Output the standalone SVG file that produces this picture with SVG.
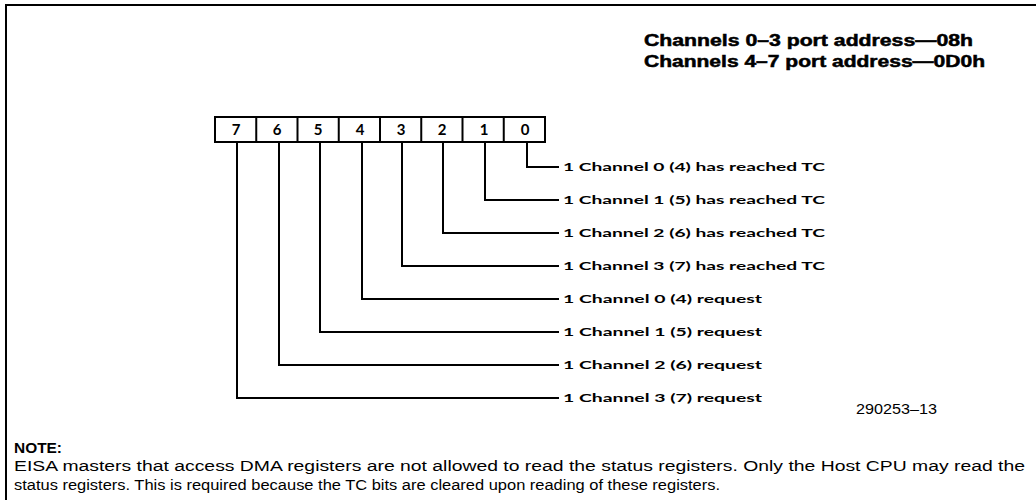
<svg xmlns="http://www.w3.org/2000/svg" width="1036" height="500" viewBox="0 0 1036 500">
<style>
.frame{fill:none;stroke:#000;stroke-width:2}
.cell{fill:#fff;stroke:#000;stroke-width:2}
.bit{font-family:"Lato","Liberation Sans",sans-serif;font-weight:bold;font-size:15px;text-anchor:middle}
.lbl{font-family:"Lato","Liberation Sans",sans-serif;font-weight:bold;font-size:11.5px}
.hdr{font-family:"Liberation Sans",Arial,sans-serif;font-weight:bold;font-size:16px;stroke:#000;stroke-width:0.5}
.note{font-family:"Liberation Sans",Arial,sans-serif;font-size:14px}
.conn{fill:none;stroke:#000;stroke-width:2}
</style>
<rect width="1036" height="500" fill="#fff"/>
<path class="frame" d="M6,500 V5 H1036"/>
<text class="hdr" x="644" y="46" textLength="329" lengthAdjust="spacingAndGlyphs">Channels 0–3 port address—08h</text>
<text class="hdr" x="644" y="67" textLength="341" lengthAdjust="spacingAndGlyphs">Channels 4–7 port address—0D0h</text>
<g id="register">
<rect class="cell" x="215" y="117" width="330" height="25"/>
<path class="conn" d="M256.25,117V142M297.5,117V142M338.75,117V142M380,117V142M421.25,117V142M462.5,117V142M503.75,117V142"/>
<text class="bit" x="236" y="135">7</text>
<text class="bit" x="277" y="135">6</text>
<text class="bit" x="318" y="135">5</text>
<text class="bit" x="360" y="135">4</text>
<text class="bit" x="401" y="135">3</text>
<text class="bit" x="442" y="135">2</text>
<text class="bit" x="484" y="135">1</text>
<text class="bit" x="525" y="135">0</text>
</g>
<g id="connectors">
<path class="conn" d="M527,142V167H559"/>
<path class="conn" d="M485,142V200H559"/>
<path class="conn" d="M443,142V233H559"/>
<path class="conn" d="M402,142V266H559"/>
<path class="conn" d="M362,142V299H559"/>
<path class="conn" d="M320,142V332H559"/>
<path class="conn" d="M279,142V365H559"/>
<path class="conn" d="M237,142V398H559"/>
</g>
<g id="labels">
<text class="lbl" x="563" y="171" textLength="262" lengthAdjust="spacingAndGlyphs">1 Channel 0 (4) has reached TC</text>
<text class="lbl" x="563" y="204" textLength="262" lengthAdjust="spacingAndGlyphs">1 Channel 1 (5) has reached TC</text>
<text class="lbl" x="563" y="237" textLength="262" lengthAdjust="spacingAndGlyphs">1 Channel 2 (6) has reached TC</text>
<text class="lbl" x="563" y="270" textLength="262" lengthAdjust="spacingAndGlyphs">1 Channel 3 (7) has reached TC</text>
<text class="lbl" x="563" y="303" textLength="199" lengthAdjust="spacingAndGlyphs">1 Channel 0 (4) request</text>
<text class="lbl" x="563" y="336" textLength="199" lengthAdjust="spacingAndGlyphs">1 Channel 1 (5) request</text>
<text class="lbl" x="563" y="369" textLength="199" lengthAdjust="spacingAndGlyphs">1 Channel 2 (6) request</text>
<text class="lbl" x="563" y="402" textLength="199" lengthAdjust="spacingAndGlyphs">1 Channel 3 (7) request</text>
</g>
<text class="note" x="856" y="414" font-size="12" textLength="81" lengthAdjust="spacingAndGlyphs">290253–13</text>
<text class="note" x="14" y="453" font-weight="bold" textLength="48" lengthAdjust="spacingAndGlyphs">NOTE:</text>
<text class="note" x="14" y="471" textLength="1011" lengthAdjust="spacingAndGlyphs">EISA masters that access DMA registers are not allowed to read the status registers. Only the Host CPU may read the</text>
<text class="note" x="14" y="490" textLength="706" lengthAdjust="spacingAndGlyphs">status registers. This is required because the TC bits are cleared upon reading of these registers.</text>
</svg>
